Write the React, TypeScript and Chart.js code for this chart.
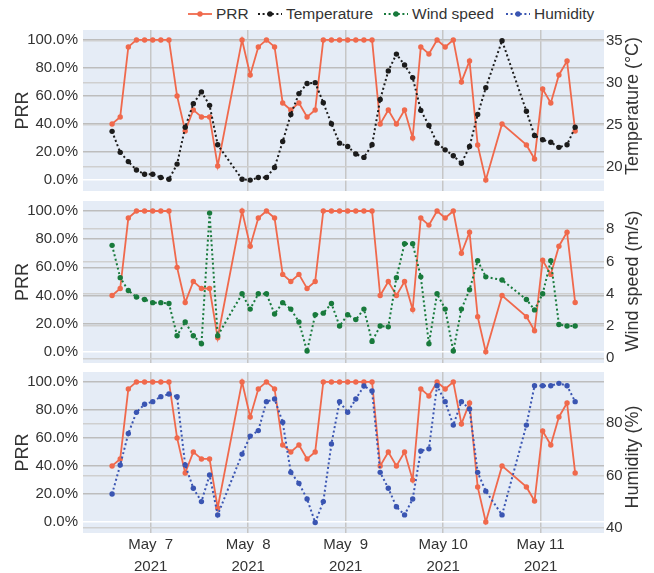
import React, { useEffect, useRef } from 'react';
import { Chart, registerables } from 'chart.js';

Chart.register(...registerables);

// Observation times, hours after 2021-05-06 00:00 (2-hourly, some missing)
const hours = [
  14.5, 16.5, 18.5, 20.5, 22.5, 24.5, 26.5, 28.5, 30.5, 32.5, 34.5, 36.5, 38.5, 40.5,
  46.5, 48.5, 50.5, 52.5, 54.5, 56.5, 58.5, 60.5, 62.5, 64.5, 66.5, 68.5, 70.5, 72.5, 74.5, 76.5,
  78.5, 80.5, 82.5, 84.5, 86.5, 88.5, 90.5, 92.5, 94.5, 96.5, 98.5, 100.5, 102.5, 104.5, 106.5,
  110.5,
  116.5, 118.5, 120.5, 122.5, 124.5, 126.5, 128.5,
];

const prr = [
  40, 45, 95, 100, 100, 100, 100, 100, 60, 35, 50, 45, 45, 10,
  100, 75, 95, 100, 95, 55, 50, 55, 45, 50, 100, 100, 100, 100, 100, 100,
  100, 40, 50, 40, 50, 30, 95, 90, 100, 95, 100, 70, 85, 25, 0,
  40,
  25, 15, 65, 55, 75, 85, 35,
];

const temperature = [
  24.2, 21.7, 20.6, 19.6, 19.1, 19.1, 18.7, 18.5, 20.3, 24.7, 27.5, 28.9, 27.3, 22.6,
  18.5, 18.4, 18.7, 18.7, 19.9, 23.0, 26.2, 28.7, 29.9, 30.0, 27.6, 25.1, 22.8, 22.4, 21.5, 21.1,
  22.6, 28.0, 31.4, 33.4, 32.1, 30.6, 26.7, 24.9, 22.8, 22.0, 21.3, 20.4, 22.4, 26.2, 29.4,
  35.0,
  26.6, 23.7, 23.2, 22.9, 22.3, 22.6, 24.7,
];

const windSpeed = [
  7.0, 5.0, 4.2, 3.8, 3.65, 3.45, 3.45, 3.4, 1.4, 2.25, 1.4, 0.9, 9.0, 1.4,
  4.0, 3.05, 4.0, 4.0, 2.75, 3.45, 3.05, 2.25, 0.45, 2.7, 2.8, 3.4, 2.0, 2.7, 2.4, 3.05,
  1.05, 2.0, 1.95, 5.0, 7.1, 7.1, 5.05, 0.9, 4.0, 3.05, 0.45, 3.05, 4.25, 6.05, 5.05,
  4.85,
  3.65, 3.0, 4.0, 6.05, 2.1, 2.0, 2.0,
];

const humidity = [
  52.9, 64.0, 76.1, 84.2, 87.3, 88.3, 90.2, 91.2, 90.2, 64.0, 55.1, 50.0, 60.2, 44.9,
  68.2, 75.1, 77.2, 88.3, 89.3, 80.4, 61.2, 57.0, 51.0, 42.0, 50.0, 72.1, 88.3, 84.2, 89.3, 94.3,
  92.4, 61.2, 55.1, 48.0, 44.9, 51.0, 69.4, 70.2, 94.4, 88.3, 79.3, 88.3, 85.5, 61.2, 54.0,
  44.9,
  79.3, 94.4, 94.4, 94.4, 95.3, 94.4, 88.3,
];

const dayTicks = [24, 48, 72, 96, 120];
const dayTickLabels = [
  ['May  7', '2021'],
  ['May  8', '2021'],
  ['May  9', '2021'],
  ['May 10', '2021'],
  ['May 11', '2021'],
];
const prrTicks = [0, 20, 40, 60, 80, 100];
const temperatureTicks = [20, 25, 30, 35];
const windTicks = [0, 2, 4, 6, 8];
const humidityTicks = [40, 60, 80];

const FONT = "'Liberation Sans', Arial, Helvetica, sans-serif";
const TEXT = '#333333';
const BG = '#E5ECF6';

const COLORS = {
  prr: '#F0694C',
  temperature: '#1c1c1c',
  wind: '#187a3c',
  humidity: '#3a55b2',
};

type PanelProps = {
  top: number;
  padTop: number;
  area: number;
  xHeight: number;
  showX: boolean;
  values: number[];
  color: string;
  label: string;
  min: number;
  max: number;
  ticks: number[];
  title: string;
  titleY: number;
};

function noPad(axis: any) {
  axis.paddingTop = 0;
  axis.paddingBottom = 0;
  axis.paddingLeft = 0;
  axis.paddingRight = 0;
}

function Panel(p: PanelProps) {
  const ref = useRef<HTMLCanvasElement | null>(null);
  const height = p.padTop + p.area + p.xHeight;

  useEffect(() => {
    if (!ref.current) return;
    const bgPlugin = {
      id: 'bg',
      beforeDraw(chart: any) {
        const { ctx, chartArea } = chart;
        ctx.save();
        ctx.fillStyle = BG;
        ctx.fillRect(chartArea.left, chartArea.top, chartArea.right - chartArea.left, chartArea.bottom - chartArea.top);
        ctx.restore();
      },
    };
    const rightTitle = {
      id: 'rightTitle',
      afterDraw(chart: any) {
        const { ctx } = chart;
        ctx.save();
        ctx.translate(633, p.titleY - p.top);
        ctx.rotate(-Math.PI / 2);
        ctx.textAlign = 'center';
        ctx.textBaseline = 'middle';
        ctx.fillStyle = TEXT;
        ctx.font = `18px ${FONT}`;
        ctx.fillText(p.title, 0, 0);
        ctx.restore();
      },
    };

    const chart = new Chart(ref.current, {
      type: 'line',
      data: {
        datasets: [
          {
            label: 'PRR',
            data: hours.map((h, i) => ({ x: h, y: prr[i] })),
            yAxisID: 'y',
            borderColor: COLORS.prr,
            backgroundColor: COLORS.prr,
            borderWidth: 1.8,
            pointRadius: 2.7,
            pointBorderWidth: 0,
            pointHoverRadius: 2.7,
            tension: 0,
            order: 2,
          },
          {
            label: p.label,
            data: hours.map((h, i) => ({ x: h, y: p.values[i] })),
            yAxisID: 'y2',
            borderColor: p.color,
            backgroundColor: p.color,
            borderWidth: 2,
            borderDash: [2, 2.6],
            pointRadius: 2.7,
            pointBorderWidth: 0,
            pointHoverRadius: 2.7,
            tension: 0,
            order: 1,
          },
        ],
      },
      options: {
        animation: false,
        responsive: false,
        maintainAspectRatio: false,
        devicePixelRatio: 1,
        layout: { padding: { top: p.padTop, left: 0, right: 0, bottom: 0 } },
        plugins: { legend: { display: false }, tooltip: { enabled: false } },
        events: [],
        scales: {
          x: {
            type: 'linear',
            min: 7.34,
            max: 135.6,
            border: { display: false },
            grid: { color: '#c6c6c6', lineWidth: 1.5, drawTicks: false },
            afterBuildTicks: (axis: any) => {
              axis.ticks = dayTicks.map((v) => ({ value: v }));
            },
            afterFit: (axis: any) => {
              axis.height = p.xHeight;
              noPad(axis);
            },
            ticks: {
              display: p.showX,
              padding: 1,
              color: TEXT,
              maxRotation: 0,
              autoSkip: false,
              font: { family: FONT, size: 15, lineHeight: '22px' },
              callback: (_v: any, i: number) => dayTickLabels[i],
            },
          },
          y: {
            type: 'linear',
            position: 'left',
            min: -7.9,
            max: 107.1,
            border: { display: false },
            grid: {
              drawTicks: false,
              lineWidth: 1.5,
              color: (c: any) => (c.tick && c.tick.value === 0 ? '#ffffff' : '#bdbdbd'),
            },
            afterBuildTicks: (axis: any) => {
              axis.ticks = prrTicks.map((v) => ({ value: v }));
            },
            afterFit: (axis: any) => {
              axis.width = 83;
              noPad(axis);
            },
            ticks: {
              padding: 5,
              color: TEXT,
              font: { family: FONT, size: 15 },
              callback: (v: any) => Number(v).toFixed(1) + '%',
            },
            title: {
              display: true,
              text: 'PRR',
              color: TEXT,
              font: { family: FONT, size: 18 },
              padding: { top: 12, bottom: 0 },
            },
          },
          y2: {
            type: 'linear',
            position: 'right',
            min: p.min,
            max: p.max,
            border: { display: false },
            grid: { drawTicks: false, lineWidth: 1.5, color: '#cfcfcf' },
            afterBuildTicks: (axis: any) => {
              axis.ticks = p.ticks.map((v) => ({ value: v }));
            },
            afterFit: (axis: any) => {
              axis.width = 50;
              noPad(axis);
            },
            ticks: {
              padding: 2,
              color: TEXT,
              font: { family: FONT, size: 15 },
              callback: (v: any) => String(v),
            },
          },
        },
      } as any,
      plugins: [bgPlugin, rightTitle],
    });
    return () => chart.destroy();
  }, []);

  return (
    <canvas
      ref={ref}
      width={654}
      height={height}
      style={{ position: 'absolute', left: 0, top: p.top, width: 654, height }}
    />
  );
}

function LegendItem({ x, color, dashed, text }: { x: number; color: string; dashed: boolean; text: string }) {
  return (
    <div style={{ position: 'absolute', left: x, top: 4, height: 20, display: 'flex', alignItems: 'center' }}>
      <svg width={25} height={10} style={{ display: 'block' }}>
        <line
          x1={0}
          y1={5}
          x2={24}
          y2={5}
          stroke={color}
          strokeWidth={dashed ? 2 : 1.8}
          strokeDasharray={dashed ? '2 2.6' : undefined}
        />
        <circle cx={12} cy={5} r={2.7} fill={color} />
      </svg>
      <span style={{ marginLeft: 3, fontFamily: FONT, fontSize: 15.5, color: TEXT, whiteSpace: 'pre' }}>{text}</span>
    </div>
  );
}

export default function App() {
  return (
    <div style={{ position: 'absolute', left: 0, top: 0, width: 654, height: 573, background: '#fff' }}>
      <LegendItem x={188} color={COLORS.prr} dashed={false} text="PRR" />
      <LegendItem x={258} color={COLORS.temperature} dashed={true} text="Temperature" />
      <LegendItem x={384} color={COLORS.wind} dashed={true} text="Wind speed" />
      <LegendItem x={506} color={COLORS.humidity} dashed={true} text="Humidity" />
      <Panel
        top={25}
        padTop={5}
        area={161}
        xHeight={5}
        showX={false}
        values={temperature}
        color={COLORS.temperature}
        label="Temperature"
        min={17.1}
        max={36.27}
        ticks={temperatureTicks}
        title="Temperature (°C)"
        titleY={106}
      />
      <Panel
        top={196}
        padTop={5}
        area={162}
        xHeight={5}
        showX={false}
        values={windSpeed}
        color={COLORS.wind}
        label="Wind speed"
        min={-0.29}
        max={9.75}
        ticks={windTicks}
        title="Wind speed (m/s)"
        titleY={281}
      />
      <Panel
        top={368}
        padTop={4}
        area={161}
        xHeight={40}
        showX={true}
        values={humidity}
        color={COLORS.humidity}
        label="Humidity"
        min={37.97}
        max={99.65}
        ticks={humidityTicks}
        title="Humidity (%)"
        titleY={457}
      />
    </div>
  );
}
